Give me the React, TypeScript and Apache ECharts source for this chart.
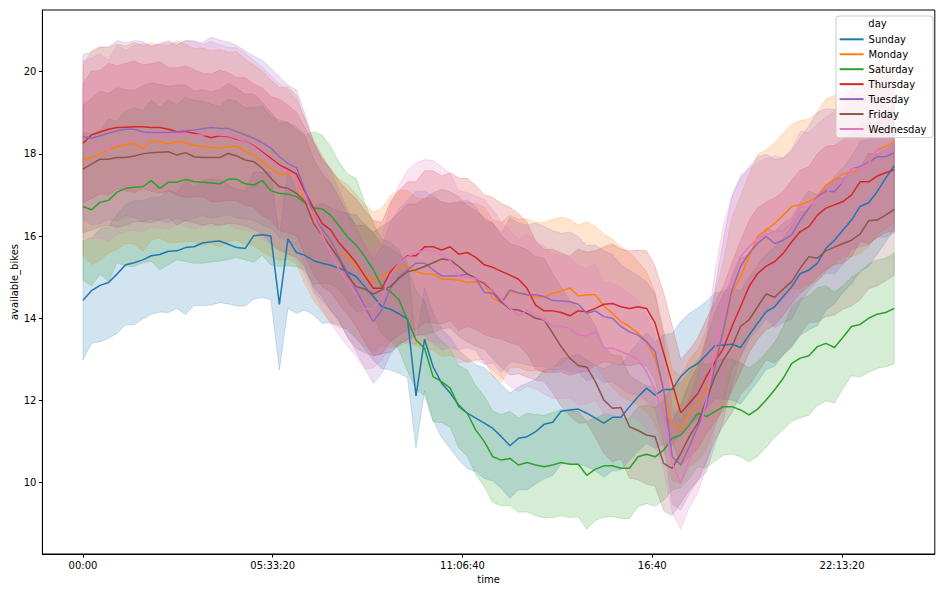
import React, { useEffect, useRef } from "react";
import * as echarts from "echarts";

// ---- data (15-minute slots, 00:00 .. 23:45) ----
const SLOT_SECONDS = 900;
const days = ["Sunday", "Monday", "Saturday", "Thursday", "Tuesday", "Friday", "Wednesday"];
const dayColors = ["#1f77b4", "#ff7f0e", "#2ca02c", "#d62728", "#9467bd", "#8c564b", "#e377c2"];
const xTickValues = [0, 20000, 40000, 60000, 80000];
const yTickValues = [10, 12, 14, 16, 18, 20];

const sundayMean = [
  14.44, 14.67, 14.8, 14.87, 15.08, 15.3, 15.35, 15.42, 15.52, 15.55, 15.63, 15.64,
  15.72, 15.74, 15.83, 15.86, 15.88, 15.8, 15.72, 15.7, 16.01, 16.03, 16.0, 14.34,
  15.93, 15.6, 15.53, 15.4, 15.34, 15.29, 15.22, 15.13, 15.01, 14.77, 14.53, 14.28,
  14.22, 14.11, 13.98, 12.11, 13.49, 12.82, 12.42, 12.18, 11.89, 11.69, 11.57, 11.45,
  11.32, 11.12, 10.9, 11.08, 11.12, 11.24, 11.42, 11.47, 11.74, 11.77, 11.79, 11.69,
  11.57, 11.45, 11.59, 11.59, 11.85, 12.09, 12.3, 12.13, 12.27, 12.27, 12.58, 12.78,
  12.9, 13.11, 13.33, 13.35, 13.37, 13.29, 13.59, 13.88, 14.16, 14.28, 14.53, 14.77,
  15.09, 15.17, 15.34, 15.7, 15.9, 16.15, 16.39, 16.72, 16.81, 17.08, 17.41, 17.71,
];
const mondayMean = [
  17.84, 17.91, 18.01, 18.09, 18.18, 18.22, 18.26, 18.13, 18.3, 18.3, 18.24, 18.3,
  18.27, 18.21, 18.18, 18.16, 18.14, 18.17, 18.19, 18.05, 17.97, 17.81, 17.65, 17.51,
  17.53, 17.37, 16.84, 16.39, 16.07, 15.74, 15.58, 15.5, 15.26, 15.05, 14.89, 15.01,
  15.13, 15.22, 15.26, 15.13, 15.08, 15.08, 14.95, 14.95, 14.93, 14.87, 14.89, 14.85,
  14.49, 14.38, 14.65, 14.61, 14.57, 14.53, 14.51, 14.61, 14.66, 14.74, 14.54, 14.57,
  14.57, 14.3, 14.12, 13.92, 13.8, 13.64, 13.43, 13.03, 12.25, 11.41, 11.28, 11.69,
  11.89, 12.26, 12.99, 13.64, 14.61, 15.01, 15.5, 15.99, 16.15, 16.31, 16.51, 16.72,
  16.76, 16.84, 16.96, 17.24, 17.37, 17.51, 17.55, 17.65, 17.79, 18.1, 18.18, 18.3,
];
const saturdayMean = [
  16.72, 16.64, 16.82, 16.87, 17.07, 17.16, 17.19, 17.2, 17.35, 17.16, 17.31, 17.31,
  17.38, 17.32, 17.31, 17.29, 17.27, 17.38, 17.38, 17.27, 17.24, 17.35, 17.1, 17.04,
  17.02, 16.96, 16.81, 16.68, 16.66, 16.51, 16.25, 15.97, 15.78, 15.5, 15.18, 14.77,
  14.65, 14.45, 13.96, 13.47, 13.27, 12.58, 12.46, 12.3, 11.85, 11.69, 11.28, 11.0,
  10.63, 10.55, 10.59, 10.43, 10.49, 10.43, 10.39, 10.43, 10.49, 10.45, 10.45, 10.18,
  10.33, 10.41, 10.41, 10.35, 10.35, 10.63, 10.69, 10.63, 10.79, 11.08, 11.16, 11.4,
  11.69, 11.61, 11.73, 11.85, 11.85, 11.77, 11.65, 11.79, 12.01, 12.26, 12.54, 12.9,
  13.03, 13.09, 13.31, 13.39, 13.29, 13.54, 13.8, 13.85, 14.0, 14.1, 14.14, 14.24,
];
const thursdayMean = [
  18.26, 18.46, 18.53, 18.6, 18.64, 18.65, 18.66, 18.66, 18.64, 18.64, 18.6, 18.54,
  18.54, 18.5, 18.46, 18.39, 18.44, 18.42, 18.36, 18.3, 18.2, 18.05, 17.89, 17.73,
  17.63, 17.51, 17.08, 16.68, 16.31, 16.15, 15.83, 15.6, 15.35, 15.03, 14.73, 14.73,
  15.13, 15.34, 15.52, 15.52, 15.74, 15.74, 15.66, 15.74, 15.56, 15.6, 15.48, 15.3,
  15.24, 15.14, 15.05, 14.95, 14.73, 14.32, 14.18, 14.18, 14.14, 14.06, 14.18, 14.16,
  14.24, 14.34, 14.36, 14.28, 14.24, 14.28, 14.24, 13.88, 13.15, 12.42, 11.7, 11.93,
  12.17, 12.58, 12.94, 13.27, 13.8, 14.28, 14.77, 15.09, 15.27, 15.38, 15.58, 15.86,
  16.11, 16.23, 16.51, 16.68, 16.76, 16.84, 17.0, 17.32, 17.32, 17.46, 17.54, 17.61,
];
const tuesdayMean = [
  18.42, 18.38, 18.44, 18.5, 18.56, 18.6, 18.6, 18.54, 18.52, 18.52, 18.52, 18.54,
  18.56, 18.58, 18.61, 18.64, 18.62, 18.62, 18.54, 18.46, 18.38, 18.27, 18.14, 17.93,
  17.77, 17.66, 17.12, 16.47, 16.17, 15.9, 15.5, 15.1, 14.69, 14.28, 13.92, 14.2,
  14.73, 15.01, 15.18, 15.34, 15.34, 15.18, 15.03, 15.03, 15.03, 15.08, 14.97, 14.63,
  14.61, 14.38, 14.69, 14.62, 14.57, 14.57, 14.53, 14.43, 14.42, 14.4, 14.34, 14.12,
  14.18, 14.04, 14.0, 13.8, 13.67, 13.59, 13.43, 13.19, 12.25, 10.63, 10.43, 10.88,
  11.36, 11.85, 12.82, 13.72, 14.69, 15.26, 15.58, 15.82, 15.99, 15.82, 15.9, 16.03,
  16.39, 16.68, 16.96, 17.1, 17.08, 17.32, 17.63, 17.69, 17.79, 17.93, 17.93, 18.03,
];
const fridayMean = [
  17.63, 17.75, 17.87, 17.87, 17.91, 17.91, 17.95, 18.0, 18.03, 18.04, 18.05, 17.97,
  18.03, 17.93, 17.91, 17.91, 17.91, 18.01, 17.95, 17.85, 17.81, 17.65, 17.41, 17.2,
  17.16, 17.04, 16.84, 16.31, 16.03, 15.74, 15.44, 15.03, 14.77, 14.71, 14.59, 14.69,
  14.77, 14.97, 15.13, 15.18, 15.26, 15.35, 15.44, 15.42, 15.26, 15.08, 14.97, 14.85,
  14.67, 14.4, 14.22, 14.2, 14.12, 14.0, 13.96, 13.64, 13.31, 13.03, 12.85, 12.81,
  12.46, 12.01, 11.81, 11.83, 11.36, 11.27, 11.16, 11.12, 10.47, 10.35, 10.71, 11.12,
  11.45, 12.01, 12.58, 12.99, 13.31, 13.8, 13.96, 14.28, 14.59, 14.51, 14.71, 14.89,
  15.22, 15.5, 15.46, 15.64, 15.73, 15.82, 15.9, 16.05, 16.37, 16.39, 16.51, 16.65,
];
const wednesdayMean = [
  18.12, 18.13, 18.19, 18.08, 18.34, 18.32, 18.38, 18.39, 18.42, 18.44, 18.46, 18.48,
  18.5, 18.46, 18.46, 18.48, 18.46, 18.44, 18.38, 18.3, 18.18, 18.01, 17.85, 17.69,
  17.57, 17.37, 16.96, 16.47, 16.03, 15.58, 15.18, 14.87, 14.57, 14.22, 14.24, 14.49,
  15.05, 15.34, 15.5, 15.58, 15.66, 15.64, 15.54, 15.42, 15.01, 15.01, 14.97, 14.89,
  14.69, 14.45, 14.24, 14.06, 14.2, 14.08, 13.96, 13.8, 13.8, 13.76, 13.59, 13.57,
  13.67, 13.27, 13.27, 13.19, 13.11, 12.99, 12.7, 12.26, 11.61, 10.47, 9.99, 10.55,
  11.04, 12.01, 13.23, 14.28, 15.01, 15.5, 15.74, 15.95, 16.03, 16.11, 16.11, 16.33,
  16.7, 16.72, 16.92, 17.04, 17.24, 17.3, 17.63, 17.65, 17.77, 18.11, 18.03, 18.16,
];

// half-width of the 95% confidence band
const sundayCi = [
  1.45, 1.28, 1.37, 1.36, 1.45, 1.46, 1.51, 1.44, 1.42, 1.4, 1.49, 1.4,
  1.63, 1.43, 1.52, 1.54, 1.5, 1.45, 1.42, 1.4, 1.55, 1.52, 1.55, 1.6,
  1.69, 1.48, 1.33, 1.32, 1.46, 1.4, 1.38, 1.42, 1.5, 1.52, 1.55, 1.5,
  1.48, 1.45, 1.42, 1.27, 1.26, 1.3, 1.32, 1.35, 1.33, 1.35, 1.3, 1.35,
  1.28, 1.26, 1.28, 1.25, 1.3, 1.27, 1.32, 1.3, 1.28, 1.3, 1.33, 1.3,
  1.28, 1.32, 1.3, 1.28, 1.3, 1.32, 1.34, 1.3, 1.33, 1.36, 1.34, 1.34,
  1.35, 1.3, 1.28, 1.32, 1.35, 1.38, 1.4, 1.42, 1.4, 1.45, 1.42, 1.48,
  1.5, 1.45, 1.52, 1.5, 1.55, 1.52, 1.55, 1.58, 1.55, 1.52, 1.55, 1.55,
];
const mondayCi = [
  2.3, 2.6, 2.6, 2.5, 2.5, 2.4, 2.45, 2.5, 2.4, 2.35, 2.4, 2.45,
  2.4, 2.35, 2.4, 2.35, 2.4, 2.3, 2.3, 2.25, 2.2, 2.2, 2.15, 2.1,
  2.1, 2.05, 2.0, 1.95, 1.9, 1.85, 1.8, 1.75, 1.75, 1.72, 1.7, 1.66,
  1.85, 1.9, 1.85, 1.8, 1.82, 1.85, 1.88, 1.85, 1.9, 1.95, 1.9, 1.85,
  1.9, 1.95, 1.85, 1.8, 1.85, 1.8, 1.82, 1.8, 1.8, 1.67, 1.73, 1.78,
  1.67, 1.75, 1.8, 1.82, 1.8, 1.75, 1.7, 1.6, 1.45, 1.35, 1.3, 1.3,
  1.35, 1.45, 1.6, 1.75, 1.85, 1.95, 2.0, 2.0, 1.95, 1.95, 2.0, 2.0,
  2.05, 2.0, 2.05, 2.1, 2.05, 2.0, 2.05, 2.07, 2.05, 2.06, 2.0, 1.98,
];
const saturdayCi = [
  1.79, 1.85, 1.74, 1.98, 1.72, 1.89, 1.93, 1.85, 1.96, 1.98, 2.0, 1.89,
  2.0, 1.98, 1.97, 1.92, 1.88, 1.95, 1.9, 1.85, 1.88, 1.82, 1.8, 1.78,
  1.75, 1.7, 1.65, 1.86, 1.8, 1.67, 1.54, 1.54, 1.62, 1.3, 1.13, 1.15,
  1.2, 1.22, 1.25, 1.2, 1.15, 1.1, 1.0, 0.95, 1.0, 1.05, 1.08, 1.1,
  1.11, 1.11, 1.15, 1.15, 1.2, 1.23, 1.25, 1.28, 1.29, 1.3, 1.28, 1.31,
  1.25, 1.25, 1.23, 1.23, 1.22, 1.21, 1.2, 1.2, 1.22, 1.25, 1.28, 1.3,
  1.3, 1.25, 1.2, 1.18, 1.15, 1.14, 1.14, 1.15, 1.15, 1.16, 1.25, 1.4,
  1.45, 1.45, 1.43, 1.4, 1.35, 1.25, 1.2, 1.28, 1.32, 1.32, 1.32, 1.35,
];
const thursdayCi = [
  1.45, 1.55, 1.5, 1.6, 1.5, 1.55, 1.6, 1.5, 1.55, 1.6, 1.5, 1.55,
  1.6, 1.55, 1.5, 1.55, 1.6, 1.55, 1.5, 1.55, 1.5, 1.55, 1.5, 1.6,
  1.55, 1.5, 1.55, 1.6, 1.55, 1.5, 1.5, 1.5, 1.55, 1.6, 1.65, 1.6,
  1.7, 1.75, 1.8, 1.8, 1.85, 1.85, 1.8, 1.8, 1.85, 1.8, 1.75, 1.7,
  1.7, 1.65, 1.65, 1.6, 1.6, 1.55, 1.5, 1.5, 1.45, 1.45, 1.5, 1.45,
  1.4, 1.4, 1.45, 1.4, 1.4, 1.38, 1.4, 1.38, 1.46, 1.4, 1.3, 1.3,
  1.35, 1.4, 1.45, 1.5, 1.55, 1.6, 1.6, 1.6, 1.55, 1.55, 1.5, 1.5,
  1.5, 1.45, 1.5, 1.5, 1.45, 1.5, 1.5, 1.45, 1.5, 1.5, 1.45, 1.5,
];
const tuesdayCi = [
  2.0, 2.1, 2.15, 2.1, 2.2, 2.1, 2.15, 2.2, 2.1, 2.15, 2.2, 2.1,
  2.2, 2.15, 2.1, 2.2, 2.15, 2.1, 2.1, 2.05, 2.0, 2.0, 1.95, 1.95,
  1.9, 1.9, 1.85, 1.8, 1.75, 1.7, 1.6, 1.55, 1.5, 1.5, 1.5, 1.55,
  1.6, 1.65, 1.7, 1.75, 1.75, 1.8, 1.8, 1.75, 1.8, 1.8, 1.75, 1.75,
  1.7, 1.7, 1.75, 1.7, 1.7, 1.75, 1.7, 1.7, 1.65, 1.7, 1.65, 1.65,
  1.6, 1.6, 1.55, 1.5, 1.5, 1.45, 1.45, 1.4, 1.3, 1.15, 1.1, 1.15,
  1.3, 1.6, 1.9, 2.2, 2.3, 2.2, 2.1, 2.1, 2.0, 2.05, 2.0, 2.05,
  2.0, 2.0, 2.05, 2.0, 2.0, 2.0, 1.95, 1.95, 2.0, 1.95, 1.95, 1.95,
];
const fridayCi = [
  1.55, 1.6, 1.65, 1.6, 1.7, 1.65, 1.6, 1.65, 1.7, 1.65, 1.6, 1.7,
  1.65, 1.6, 1.65, 1.6, 1.65, 1.7, 1.65, 1.6, 1.65, 1.6, 1.6, 1.55,
  1.6, 1.55, 1.6, 1.55, 1.5, 1.55, 1.5, 1.5, 1.5, 1.55, 1.5, 1.55,
  1.6, 1.6, 1.65, 1.6, 1.65, 1.7, 1.7, 1.65, 1.7, 1.65, 1.65, 1.6,
  1.65, 1.6, 1.6, 1.55, 1.55, 1.5, 1.5, 1.45, 1.45, 1.4, 1.4, 1.35,
  1.35, 1.3, 1.3, 1.25, 1.25, 1.2, 1.2, 1.2, 1.15, 1.15, 1.2, 1.3,
  1.4, 1.5, 1.55, 1.6, 1.6, 1.65, 1.6, 1.6, 1.6, 1.6, 1.6, 1.55,
  1.6, 1.6, 1.55, 1.6, 1.65, 1.6, 1.6, 1.6, 1.65, 1.6, 1.6, 1.6,
];
const wednesdayCi = [
  2.15, 2.2, 2.25, 2.2, 2.3, 2.2, 2.25, 2.3, 2.2, 2.25, 2.3, 2.2,
  2.25, 2.3, 2.2, 2.25, 2.2, 2.15, 2.2, 2.15, 2.1, 2.1, 2.05, 2.0,
  2.0, 1.95, 1.9, 1.85, 1.8, 1.7, 1.6, 1.55, 1.5, 1.45, 1.45, 1.5,
  1.7, 1.9, 2.1, 2.2, 2.2, 2.2, 2.15, 2.1, 2.1, 2.05, 2.0, 2.0,
  1.95, 1.9, 1.9, 1.85, 1.85, 1.8, 1.8, 1.75, 1.75, 1.7, 1.7, 1.65,
  1.65, 1.6, 1.6, 1.55, 1.5, 1.45, 1.4, 1.35, 1.3, 1.2, 1.12, 1.15,
  1.3, 1.6, 1.9, 2.0, 1.95, 1.9, 1.9, 1.85, 1.85, 1.85, 1.8, 1.8,
  1.85, 1.8, 1.8, 1.85, 1.8, 1.8, 1.85, 1.8, 1.8, 1.85, 1.8, 1.8,
];

const means = [sundayMean, mondayMean, saturdayMean, thursdayMean, tuesdayMean, fridayMean, wednesdayMean];
const cis = [sundayCi, mondayCi, saturdayCi, thursdayCi, tuesdayCi, fridayCi, wednesdayCi];
const times = sundayMean.map((_, i) => i * SLOT_SECONDS);

const FONT = "DejaVu Sans";

function withAlpha(hex: string, a: number): string {
  const r = parseInt(hex.slice(1, 3), 16);
  const g = parseInt(hex.slice(3, 5), 16);
  const b = parseInt(hex.slice(5, 7), 16);
  return `rgba(${r},${g},${b},${a})`;
}

function fmtTime(v: number): string {
  const h = Math.floor(v / 3600);
  const m = Math.floor((v % 3600) / 60);
  const s = Math.round(v % 60);
  const p = (n: number) => String(n).padStart(2, "0");
  return s ? `${p(h)}:${p(m)}:${p(s)}` : `${p(h)}:${p(m)}`;
}

export default function App() {
  const ref = useRef<HTMLDivElement>(null);

  useEffect(() => {
    document.body.style.margin = "0";
    if (!ref.current) return;
    const chart = echarts.init(ref.current, undefined, { renderer: "svg" });

    const series: any[] = [];
    days.forEach((day, k) => {
      const mean = means[k];
      const ci = cis[k];
      const color = dayColors[k];
      series.push({
        type: "line",
        name: day,
        data: times.map((t, i) => [t, mean[i]]),
        showSymbol: false,
        symbol: "none",
        lineStyle: { width: 1.5, color },
        itemStyle: { color },
        z: 2,
      });
      series.push({
        type: "custom",
        name: day + " ci",
        silent: true,
        z: 2,
        data: [[times[0], mean[0]]],
        renderItem: (_params: any, api: any) => {
          const pts: number[][] = [];
          for (let i = 0; i < times.length; i++) pts.push(api.coord([times[i], mean[i] + ci[i]]));
          for (let i = times.length - 1; i >= 0; i--) pts.push(api.coord([times[i], mean[i] - ci[i]]));
          return {
            type: "polygon",
            shape: { points: pts },
            style: { fill: withAlpha(color, 0.2), stroke: withAlpha(color, 0.2), lineWidth: 1 },
          };
        },
      });
    });

    chart.setOption({
      animation: false,
      textStyle: { fontFamily: FONT },
      grid: {
        left: 42.4,
        right: 10.2,
        top: 10,
        bottom: 38,
        containLabel: false,
        outerBoundsMode: "none",
        show: true,
        borderColor: "#000",
        borderWidth: 1,
        backgroundColor: "#fff",
      },
      xAxis: {
        type: "value",
        min: -4275,
        max: 89775,
        name: "time",
        nameLocation: "middle",
        nameGap: 20,
        nameMoveOverlap: false,
        nameTextStyle: { fontFamily: FONT, fontSize: 10, color: "#000" },
        axisLine: { show: true, onZero: false, lineStyle: { color: "#000", width: 1 } },
        axisTick: { show: true, length: 3.5, customValues: xTickValues, lineStyle: { color: "#000" } },
        axisLabel: {
          customValues: xTickValues,
          formatter: (v: number) => fmtTime(v),
          fontFamily: FONT,
          fontSize: 10,
          color: "#000",
          margin: 6,
        },
        splitLine: { show: false },
      },
      yAxis: {
        type: "value",
        min: 8.265,
        max: 21.5,
        name: "available_bikes",
        nameLocation: "middle",
        nameGap: 23,
        nameMoveOverlap: false,
        nameTextStyle: { fontFamily: FONT, fontSize: 10, color: "#000" },
        axisLine: { show: true, onZero: false, lineStyle: { color: "#000", width: 1 } },
        axisTick: { show: true, length: 3.5, customValues: yTickValues, lineStyle: { color: "#000" } },
        axisLabel: {
          customValues: yTickValues,
          fontFamily: FONT,
          fontSize: 10,
          color: "#000",
          margin: 6,
        },
        splitLine: { show: false },
      },
      legend: {
        data: days,
        orient: "vertical",
        left: 836,
        top: 16,
        icon: "rect",
        itemWidth: 24,
        itemHeight: 2,
        itemGap: 2.95,
        padding: [17.3, 6.5, 2.7, 3.6],
        selectedMode: false,
        backgroundColor: "rgba(255,255,255,0.8)",
        borderColor: "#cccccc",
        borderWidth: 1,
        borderRadius: 3,
        textStyle: { fontFamily: FONT, fontSize: 10, color: "#000", lineHeight: 12 },
        z: 10,
      },
      graphic: [
        {
          type: "text",
          left: 868.3,
          top: 18,
          z: 100,
          style: { text: "day", fontFamily: FONT, fontSize: 10, fill: "#000" },
        },
      ],
      series,
    });

    return () => chart.dispose();
  }, []);

  return (
    <div
      ref={ref}
      style={{ position: "fixed", left: 0, top: 0, width: 945, height: 592, background: "#fff" }}
    />
  );
}
